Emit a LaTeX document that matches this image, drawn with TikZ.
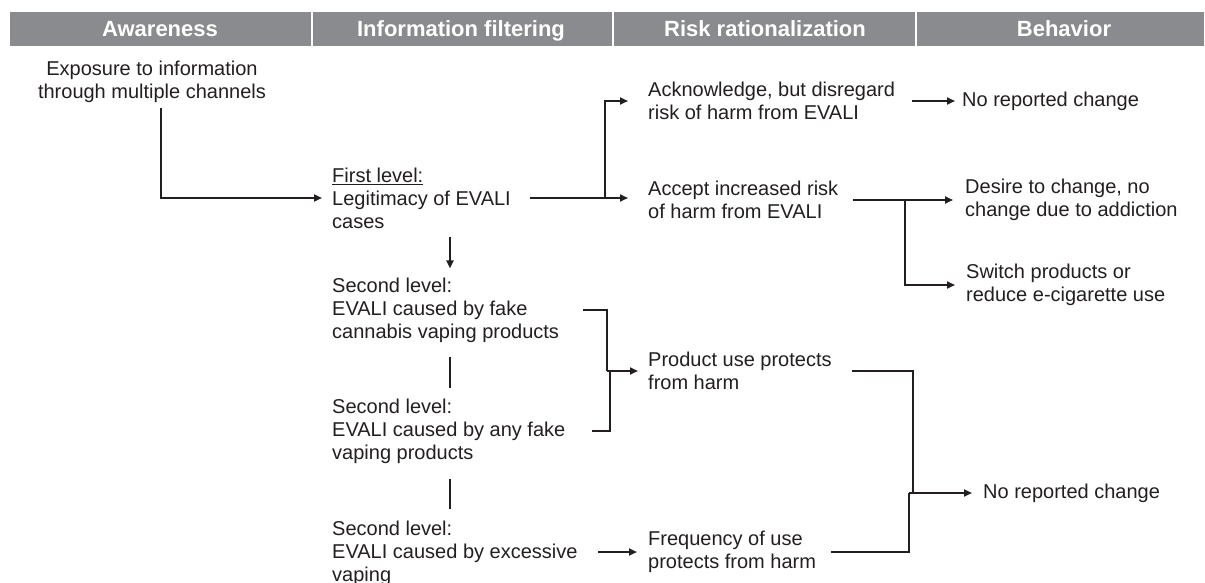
\documentclass[tikz,border=0pt]{standalone}
\usepackage{fontspec}
\setmainfont{Liberation Sans}
\usetikzlibrary{arrows.meta}
\definecolor{ink}{HTML}{231F20}
\definecolor{hdrgray}{HTML}{8A8B8E}
\begin{document}
\begin{tikzpicture}[x=1pt,y=-1pt,
  txt/.style={font=\fontsize{20}{23}\selectfont, text=ink, align=left, inner sep=0pt, anchor=west},
  hdr/.style={font=\fontsize{22}{26}\selectfont\bfseries, text=white, inner sep=0pt, anchor=base},
  hbar/.style={fill=hdrgray, draw=none},
  conn/.style={draw=ink, line width=2.1pt},
  arr/.style={conn, -{Triangle[length=8pt,width=7pt]}},
]
\useasboundingbox (0,0) rectangle (1205,583);
\fill[white] (0,0) rectangle (1205,583);

% header
\fill[hbar] (10,12) rectangle (311,46);
\fill[hbar] (313,12) rectangle (612,46);
\fill[hbar] (614,12) rectangle (915,46);
\fill[hbar] (917,12) rectangle (1204,46);
\node[hdr] (h1) at (160,37) {Awareness};
\node[hdr] (h2) at (461,37) {Information filtering};
\node[hdr] (h3) at (765,37) {Risk rationalization};
\node[hdr] (h4) at (1064,37) {Behavior};

% texts
\node[txt, align=center, anchor=center] (expo) at (152,82) {Exposure to information\\through multiple channels};
\node[txt] (first) at (332,198) {\underline{First level:}\\Legitimacy of EVALI\\cases};
\node[txt] (sec1) at (332,310) {Second level:\\EVALI caused by fake\\cannabis vaping products};
\node[txt] (sec2) at (332,431) {Second level:\\EVALI caused by any fake\\vaping products};
\node[txt] (sec3) at (332,553) {Second level:\\EVALI caused by excessive\\vaping};
\node[txt] (ack) at (648,101) {Acknowledge, but disregard\\risk of harm from EVALI};
\node[txt] (accept) at (648,200) {Accept increased risk\\of harm from EVALI};
\node[txt] (nrc1) at (962,101) {No reported change};
\node[txt] (desire) at (965,200) {Desire to change, no\\change due to addiction};
\node[txt] (switch) at (966,285) {Switch products or\\reduce e-cigarette use};
\node[txt] (prod) at (648,371) {Product use protects\\from harm};
\node[txt] (freq) at (648,552) {Frequency of use\\protects from harm};
\node[txt] (nrc2) at (983,493) {No reported change};

% connectors
\draw[arr] ([xshift=9pt,yshift=-5pt]expo.south) |- ([xshift=-10pt]first.west);

\coordinate (fbr) at (605,198);
\draw[conn] ([xshift=19pt]first.east) -- (fbr);
\draw[arr] (fbr) -- ([xshift=-20pt]first.east -| ack.west);
\draw[arr] (fbr) |- ([xshift=-20pt]ack.west);
\draw[arr] ([xshift=17pt]ack.east) -- ([xshift=-7pt]nrc1.west);

\coordinate (abr) at (905,200);
\draw[arr] ([xshift=15pt]accept.east) -- ([xshift=-12pt]desire.west);
\draw[arr] (abr) |- ([xshift=-11pt]switch.west);

\draw[arr] ([xshift=118pt,yshift=-8pt]first.south west) -- ([xshift=118pt,yshift=9pt]sec1.north west);
\draw[conn] ([xshift=118pt,yshift=-14pt]sec1.south west) -- ([xshift=118pt,yshift=10pt]sec2.north west);
\draw[conn] ([xshift=118pt,yshift=-15pt]sec2.south west) -- ([xshift=118pt,yshift=11pt]sec3.north west);

\coordinate (pj) at (607,371);
\draw[conn] ([xshift=24pt]sec1.east) -| (pj);
\draw[conn] ([xshift=26pt]sec2.east) -| ([xshift=3pt]pj);
\draw[arr] (pj) -- ([xshift=-10pt]prod.west);
\draw[arr] ([xshift=20pt]sec3.east |- freq.west) -- ([xshift=-11pt]freq.west);

\coordinate (nj) at (911,493);
\draw[conn] ([xshift=20pt]prod.east) -| ([xshift=2pt]nj);
\draw[conn] ([xshift=15pt]freq.east) -| ([xshift=-2pt]nj);
\draw[arr] ([xshift=-2pt]nj) -- ([xshift=-11pt]nrc2.west);
\end{tikzpicture}
\end{document}
